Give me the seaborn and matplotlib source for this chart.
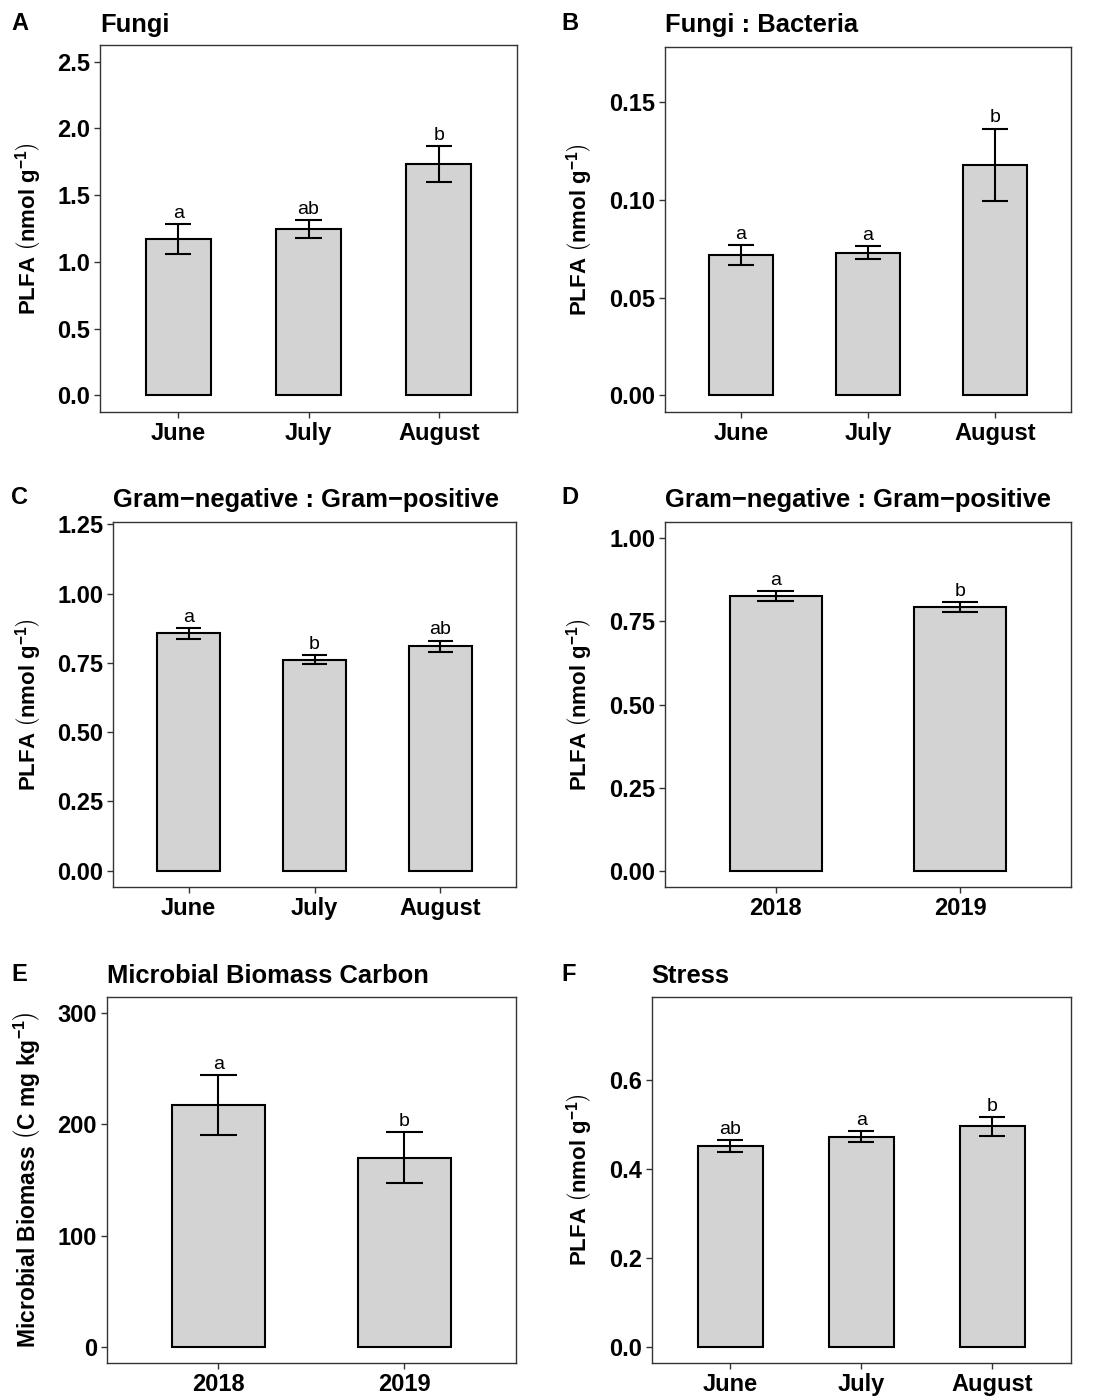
import numpy as np
import pandas as pd
import matplotlib
matplotlib.use("Agg")
import matplotlib.pyplot as plt
import seaborn as sns

# ---- data -------------------------------------------------------------
months = ["June", "July", "August"]
years = ["2018", "2019"]

fungi_mean = [1.17, 1.245, 1.73]
fungi_se = [0.11, 0.065, 0.135]
fungi_letters = ["a", "ab", "b"]

fb_mean = [0.072, 0.073, 0.118]
fb_se = [0.005, 0.0033, 0.0186]
fb_letters = ["a", "a", "b"]

gnp_month_mean = [0.857, 0.762, 0.811]
gnp_month_se = [0.02, 0.015, 0.02]
gnp_month_letters = ["a", "b", "ab"]

gnp_year_mean = [0.827, 0.793]
gnp_year_se = [0.015, 0.0155]
gnp_year_letters = ["a", "b"]

mbc_mean = [217.5, 170.2]
mbc_se = [27.0, 22.7]
mbc_letters = ["a", "b"]

stress_mean = [0.451, 0.4725, 0.496]
stress_se = [0.0135, 0.012, 0.021]
stress_letters = ["ab", "a", "b"]

# ---- style ------------------------------------------------------------
sns.set_style("white")
plt.rcParams["font.family"] = ["Liberation Sans", "DejaVu Sans"]
plt.rcParams["mathtext.fontset"] = "custom"
plt.rcParams["mathtext.rm"] = "Liberation Sans"
plt.rcParams["mathtext.bf"] = "Liberation Sans:bold"
plt.rcParams["mathtext.it"] = "Liberation Sans:italic"
plt.rcParams["mathtext.default"] = "regular"
plt.rcParams["text.color"] = "black"
plt.rcParams["axes.labelcolor"] = "black"
plt.rcParams["xtick.labelcolor"] = "black"
plt.rcParams["ytick.labelcolor"] = "black"

W, H = 1095, 1400
fig = plt.figure(figsize=(W / 100, H / 100), dpi=100)

FRAME = "#333333"
plfa_label = r"PLFA $\left(\mathbf{nmol\ g}^{-1}\right)$"
mbc_label = r"Microbial Biomass $\left(\mathbf{C\ mg\ kg}^{-1}\right)$"


def add_axes(left, top, right, bottom):
    return fig.add_axes([left / W, 1 - bottom / H, (right - left) / W, (bottom - top) / H])


def panel(box, cats, mean, se, letters, ylim, yticks, fmt, letter, title,
          title_base, ylabel, ylabel_x, letter_x, ylabel_size=16):
    ax = add_axes(*box)
    df = pd.DataFrame({"cat": cats, "val": mean})
    sns.barplot(data=df, x="cat", y="val", order=cats, color="#D3D3D3",
                saturation=1, width=0.5, edgecolor="black", linewidth=1.5,
                errorbar=None, ax=ax)
    x = np.arange(len(cats))
    lo = np.array(mean) - np.array(se)
    hi = np.array(mean) + np.array(se)
    ax.vlines(x, lo, hi, color="black", lw=1.5, zorder=4)
    ax.hlines(lo, x - 0.1, x + 0.1, color="black", lw=1.5, zorder=4)
    ax.hlines(hi, x - 0.1, x + 0.1, color="black", lw=1.5, zorder=4)
    for xi, yi, lab in zip(x, hi, letters):
        ax.annotate(lab, (xi, yi), xytext=(0, 4.5), textcoords="offset points",
                    ha="center", va="baseline", fontsize=14, color="black")
    ax.set_xlim(-0.6, len(cats) - 0.4)
    ax.set_ylim(*ylim)
    ax.set_yticks(yticks)
    ax.set_yticklabels([fmt.format(v) for v in yticks])
    ax.set_xlabel("")
    ax.set_ylabel("")
    ax.tick_params(axis="both", which="major", length=4, width=1.0,
                   color=FRAME, labelcolor="black", labelsize=17, pad=3,
                   direction="out", bottom=True, left=True)
    for lab in ax.get_xticklabels() + ax.get_yticklabels():
        lab.set_fontweight("bold")
    for sp in ax.spines.values():
        sp.set_visible(True)
        sp.set_color(FRAME)
        sp.set_linewidth(1.0)

    left, top, right, bottom = box
    fig.text(left / W, 1 - title_base / H, title, ha="left", va="baseline",
             fontsize=18.4, fontweight="bold")
    fig.text(letter_x / W, 1 - (title_base - 2) / H, letter, ha="left",
             va="baseline", fontsize=17, fontweight="bold")
    fig.text(ylabel_x / W, 1 - (top + bottom) / 2 / H, ylabel, rotation=90,
             ha="center", va="center", fontsize=ylabel_size, fontweight="bold")
    return ax


panel((100, 45, 517, 412), months, fungi_mean, fungi_se, fungi_letters,
      (-0.125, 2.625), [0, 0.5, 1.0, 1.5, 2.0, 2.5], "{:.1f}",
      "A", "Fungi", 32, plfa_label, 29, 11)

panel((665, 46.7, 1071, 412), months, fb_mean, fb_se, fb_letters,
      (-0.0085, 0.1785), [0, 0.05, 0.10, 0.15], "{:.2f}",
      "B", "Fungi : Bacteria", 32, plfa_label, 580, 561)

panel((113, 521.7, 516, 887.3), months, gnp_month_mean, gnp_month_se,
      gnp_month_letters, (-0.06, 1.26), [0, 0.25, 0.5, 0.75, 1.0, 1.25],
      "{:.2f}", "C", "Gram\u2212negative : Gram\u2212positive", 506.5,
      plfa_label, 29, 11)

panel((665, 521.7, 1070.7, 887.3), years, gnp_year_mean, gnp_year_se,
      gnp_year_letters, (-0.05, 1.05), [0, 0.25, 0.5, 0.75, 1.0],
      "{:.2f}", "D", "Gram\u2212negative : Gram\u2212positive", 506.5,
      plfa_label, 580, 561)

panel((106.7, 996.7, 515.7, 1363.3), years, mbc_mean, mbc_se, mbc_letters,
      (-15, 315), [0, 100, 200, 300], "{:.0f}",
      "E", "Microbial Biomass Carbon", 983, mbc_label, 27, 11, ylabel_size=16.5)

panel((651.7, 996.7, 1071, 1363.3), months, stress_mean, stress_se,
      stress_letters, (-0.0375, 0.7875), [0, 0.2, 0.4, 0.6], "{:.1f}",
      "F", "Stress", 983, plfa_label, 580, 561)

fig.savefig("out.png", dpi=100)
